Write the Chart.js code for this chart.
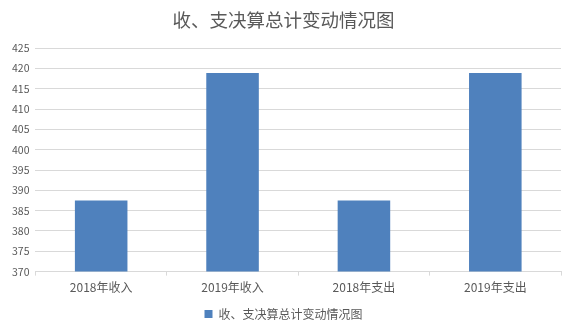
<!DOCTYPE html>
<html>
<head>
<meta charset="utf-8">
<script src="https://cdn.jsdelivr.net/npm/chart.js@4"></script>
<style>
  html, body { margin: 0; padding: 0; background: #fff; }
  #wrap { width: 576px; height: 334px; }
</style>
</head>
<body>
<div id="wrap"><canvas id="chart"></canvas></div>
<script>
const categories = ['2018年收入', '2019年收入', '2018年支出', '2019年支出'];
const totals = [387.5, 418.9, 387.5, 418.9];
const seriesName = '收、支决算总计变动情况图';
const yMin = 370, yMax = 425, yStep = 5;

const FONT = "'Noto Sans CJK SC', 'Noto Sans', sans-serif";
Chart.defaults.font.family = FONT;
Chart.defaults.color = '#595959';

new Chart(document.getElementById('chart'), {
  type: 'bar',
  data: {
    labels: categories,
    datasets: [{
      label: seriesName,
      data: totals,
      backgroundColor: '#4f81bd',
      barPercentage: 0.8,
      categoryPercentage: 0.5
    }]
  },
  options: {
    responsive: true,
    maintainAspectRatio: false,
    animation: false,
    layout: { padding: { left: 6, right: 15, top: 0, bottom: 4 } },
    scales: {
      x: {
        grid: { drawOnChartArea: false, drawTicks: true, tickLength: 4, color: '#d9d9d9' },
        border: { display: true, color: '#d9d9d9' },
        ticks: { font: { size: 12 }, color: '#595959', padding: 5 }
      },
      y: {
        min: yMin,
        max: yMax,
        ticks: { stepSize: yStep, font: { size: 10.5 }, color: '#595959', padding: 6 },
        grid: { color: '#d9d9d9', drawTicks: false },
        border: { display: false }
      }
    },
    plugins: {
      title: {
        display: true,
        text: seriesName,
        font: { size: 18.5, weight: 'normal' },
        color: '#595959',
        padding: { top: 9, bottom: 17 }
      },
      legend: {
        position: 'bottom',
        labels: { boxWidth: 8, boxHeight: 8, font: { size: 12 }, color: '#595959', padding: 8 }
      },
      tooltip: { enabled: false }
    }
  }
});
</script>
</body>
</html>
